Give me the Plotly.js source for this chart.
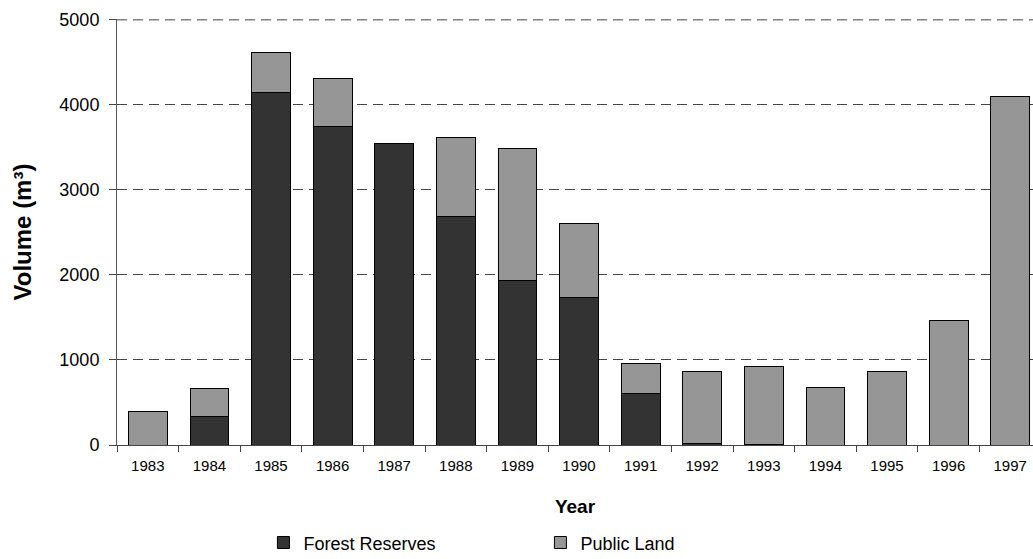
<!DOCTYPE html>
<html>
<head>
<meta charset="utf-8">
<script src="https://cdn.plot.ly/plotly-3.0.1.min.js"></script>
<style>html,body{margin:0;padding:0;background:#fff;}#chart{width:1033px;height:559px;}</style>
</head>
<body>
<div id="chart"></div>
<script>
const years = ["1983","1984","1985","1986","1987","1988","1989","1990","1991","1992","1993","1994","1995","1996","1997"];
const forestReserves = [0, 330, 4146, 3746, 3550, 2686, 1940, 1732, 605, 17, 5, 0, 0, 0, 0];
const publicLand = [390, 334, 471, 565, 0, 935, 1551, 868, 354, 843, 922, 676, 860, 1469, 4099];
const yTicks = [0, 1000, 2000, 3000, 4000, 5000];
const yMax = 5000;

const font = "Liberation Sans, Arial, sans-serif";
const traces = [
  {type:"bar", name:"Forest Reserves", x:years, y:forestReserves,
   marker:{color:"#333333", line:{color:"#000000", width:1}}},
  {type:"bar", name:"Public Land", x:years, y:publicLand,
   marker:{color:"#969696", line:{color:"#000000", width:1}}}
];
const layout = {
  width:1033, height:559,
  barmode:"stack", bargap:0.37,
  paper_bgcolor:"#fff", plot_bgcolor:"rgba(0,0,0,0)",
  margin:{l:117, r:0, t:19.15, b:114.3, pad:0},
  font:{family:font, color:"#000"},
  showlegend:true,
  legend:{orientation:"h", xref:"container", yref:"container", x:0.255, y:0.029, xanchor:"left", yanchor:"middle",
          entrywidth:232, entrywidthmode:"pixels", itemwidth:30, font:{size:18, family:font}, traceorder:"normal"},
  xaxis:{type:"category", range:[-0.5, 14.37], showgrid:false, zeroline:false,
         showline:true, linecolor:"#444", linewidth:1,
         ticks:"outside", tickson:"boundaries", ticklen:6, tickcolor:"#444", ticklabelstandoff:7,
         tickfont:{size:15, family:font},
         title:{text:"<b>Year</b>", font:{size:19, family:font}, standoff:26}},
  yaxis:{range:[0,5010], tickvals:yTicks, ticktext:yTicks.map(String),
         showgrid:true, gridcolor:"#444", griddash:"10px,6px", gridwidth:1,
         zeroline:false, showline:true, linecolor:"#555", linewidth:1,
         ticks:"outside", ticklen:7, tickcolor:"#444", ticklabelstandoff:6,
         tickfont:{size:18, family:font},
         title:{text:"<b>Volume (m³)</b>", font:{size:24, family:font}, standoff:20}},
  yaxis2:{overlaying:"y", matches:"y", side:"left", showgrid:false, zeroline:false, showline:false,
          tickvals:yTicks, ticks:"inside", ticklen:7, tickcolor:"#444", showticklabels:false},
  shapes:[{type:"line", layer:"below", xref:"paper", x0:0, x1:1, yref:"y", y0:yMax, y1:yMax,
           line:{color:"#444", width:1, dash:"10px,6px"}}]
};
Plotly.newPlot("chart", traces, layout, {displayModeBar:false, staticPlot:true});
</script>
</body>
</html>
